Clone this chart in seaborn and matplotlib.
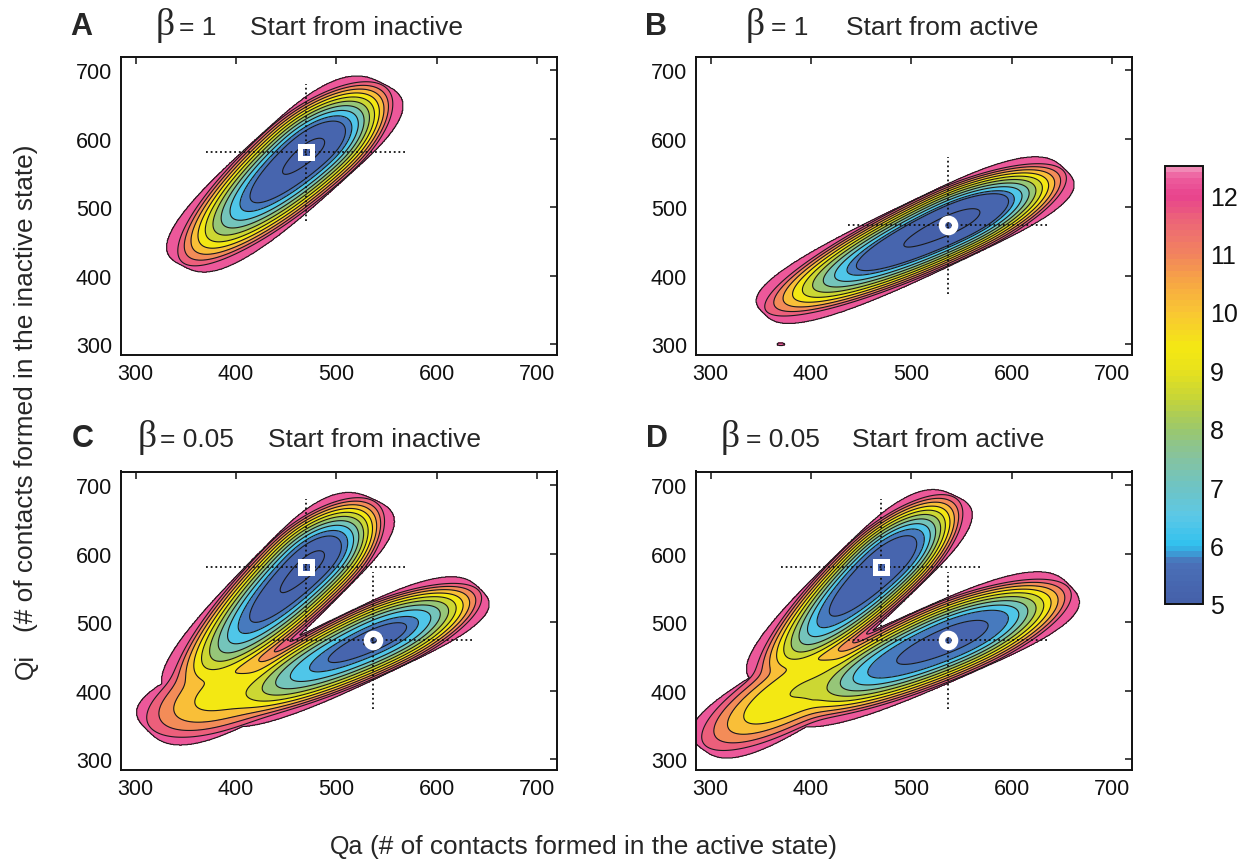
import numpy as np
import matplotlib
matplotlib.use("Agg")
import matplotlib.pyplot as plt
import seaborn as sns
from matplotlib.colors import LinearSegmentedColormap, ListedColormap, Normalize
from matplotlib.cm import ScalarMappable

sns.set_theme(style="white")
plt.rcParams["font.family"] = ["Liberation Sans", "DejaVu Sans"]

# ---- panel annotations -------------------------------------------------
panel_letters = ["A", "B", "C", "D"]
panel_beta = ["1", "1", "0.05", "0.05"]
panel_start = ["Start from inactive", "Start from active",
               "Start from inactive", "Start from active"]

# ---- free-energy basins (one entry per basin) ---------------------------
basin_panel = ["A", "B", "B", "C", "C", "C", "D", "D", "D"]
basin_qa = [470, 537, 370, 470, 537, 392, 470, 537, 388]
basin_qi = [578, 474, 300, 580, 474, 398, 580, 474, 402]
basin_angle = [53, 35, 0, 56, 35, 35, 55, 33, 42]
basin_reach_up = [128, 142, 4, 120, 130, 90, 128, 145, 100]
basin_reach_down = [205, 225, 4, 230, 195, 98, 210, 200, 130]
basin_width = [53, 50, 2, 51, 48, 50, 47, 53, 46]
basin_floor = [4.88, 4.93, 12.2, 4.85, 4.97, 9.3, 5.2, 5.2, 9.0]
basin_core = [0.45, 0.16, 1.0, 0.5, 0.9, 1.0, 0.25, 0.45, 0.6]

# ---- reference states (inactive, active) --------------------------------
state_qa = [470, 537]
state_qi = [580, 474]
state_marker = ["s", "o"]
panel_states = {"A": [0], "B": [1], "C": [0, 1], "D": [0, 1]}

# ---- colour scale -------------------------------------------------------
fe_min, fe_max = 5.0, 12.5
fe_cap = 12.3
fe_levels = np.array([5.0, 5.5, 6.0, 6.75, 7.5, 8.25, 9.0, 9.75,
                      10.5, 11.25, 12.0, 12.5])
cbar_ticks = [5, 6, 7, 8, 9, 10, 11, 12]
cmap_stops = [5.0, 5.7, 6.0, 6.5, 7.0, 7.5, 8.0, 8.5, 9.0, 9.4,
              10.0, 10.5, 11.0, 11.5, 12.0, 12.3, 12.5]
cmap_colors = ["#4560a9", "#4a70b8", "#30c1ef", "#5cc8e6", "#6fc4c3",
               "#85c3a0", "#9bc76c", "#c4d43a", "#e8e21c", "#f4e813",
               "#f9c634", "#f7a843", "#f2835e", "#ed6a74", "#e8438d",
               "#ec5b9c", "#f291bb"]

cmap = LinearSegmentedColormap.from_list(
    "fe", [((s - fe_min) / (fe_max - fe_min), c) for s, c in zip(cmap_stops, cmap_colors)])
norm = Normalize(fe_min, fe_max)

grid = np.linspace(285, 720, 700)
QA, QI = np.meshgrid(grid, grid)


def basin_terms(i):
    """Energy of one basin and the region it covers."""
    th = np.radians(basin_angle[i])
    dx, dy = QA - basin_qa[i], QI - basin_qi[i]
    u = dx * np.cos(th) + dy * np.sin(th)
    v = -dx * np.sin(th) + dy * np.cos(th)
    up, down = basin_reach_up[i], basin_reach_down[i]
    reach = 0.5 * (up + down) + 0.5 * (up - down) * np.tanh(u / 40.0)
    su, sv = np.abs(u / reach), np.abs(v / basin_width[i])
    r_e = np.sqrt(su ** 2 + sv ** 2)
    r_s = (su ** 3 + sv ** 3) ** (1.0 / 3.0)
    core = basin_core[i]
    shape = core * r_e ** 2 + (1 - core) * (np.clip(r_e - 0.45, 0, None) / 0.55) ** 1.2
    energy = basin_floor[i] + (fe_cap - basin_floor[i]) * shape
    return energy, r_s <= 1.0


def landscape(letter, kT=0.7):
    idx = [i for i, p in enumerate(basin_panel) if p == letter]
    terms = [basin_terms(i) for i in idx]
    parts = np.array([t[0] for t in terms])
    inside = np.any([t[1] for t in terms], axis=0)
    low = parts.min(axis=0)
    F = low - kT * np.log(np.exp(-(parts - low) / kT).sum(axis=0))
    F = np.minimum(F, fe_cap)
    return np.where(inside, F, 30.0)


band_mids = [4.9] + list(0.5 * (fe_levels[:-1] + fe_levels[1:]))
band_colors = [cmap(norm(m)) for m in band_mids]
fill_levels = [-50.0] + list(fe_levels)

W, H = 1240, 862
fig = plt.figure(figsize=(W / 100, H / 100), dpi=100)

axes_px = {"A": (120.5, 57.5), "B": (695.5, 57.5), "C": (120.5, 472.5), "D": (695.5, 472.5)}
ax_w, ax_h = 436.5, 298.0

for k, letter in enumerate(panel_letters):
    x0, y0 = axes_px[letter]
    ax = fig.add_axes([x0 / W, 1 - (y0 + ax_h) / H, ax_w / W, ax_h / H])
    F = landscape(letter)
    ax.contourf(QA, QI, F, levels=fill_levels, colors=band_colors, zorder=1)
    ax.contour(QA, QI, F, levels=fe_levels, colors="#1a1a1a", linewidths=0.8, zorder=2)

    for s in panel_states[letter]:
        qa, qi = state_qa[s], state_qi[s]
        ax.plot([qa - 100, qa + 100], [qi, qi], color="#111111", lw=1.3,
                linestyle=(0, (1, 1.6)), zorder=3)
        ax.plot([qa, qa], [qi - 100, qi + 100], color="#111111", lw=1.3,
                linestyle=(0, (1, 1.6)), zorder=3)
    for s in panel_states[letter]:
        if state_marker[s] == "s":
            ax.plot(state_qa[s], state_qi[s], marker="s", ms=8.5, mfc="none",
                    mec="white", mew=3.6, zorder=4)
        else:
            ax.plot(state_qa[s], state_qi[s], marker="o", ms=9.5, mfc="none",
                    mec="white", mew=4.6, zorder=4)

    ax.set_xlim(285, 720)
    ax.set_ylim(285, 720)
    ax.set_xticks([300, 400, 500, 600, 700])
    ax.set_yticks([300, 400, 500, 600, 700])
    ax.tick_params(direction="in", top=True, right=True, length=5, width=1.2,
                   colors="#222222", labelcolor="#111111", labelsize=15.5, pad=6)
    for sp in ax.spines.values():
        sp.set_linewidth(1.4)
        sp.set_color("#111111")
    ax.set_facecolor("white")

# panel headings: letter centre, beta centre, "=" start, subtitle start, baseline
heading_px = {
    "A": (81, 165, 179, 250, 35),
    "B": (656, 755, 771, 846, 35),
    "C": (83, 147, 160, 268, 447),
    "D": (657, 730, 746, 852, 447),
}
for k, letter in enumerate(panel_letters):
    xl, xb, xe, xs, yb = heading_px[letter]
    fy = 1 - yb / H
    fig.text(xl / W, fy, letter, fontsize=22, fontweight="bold", ha="center", va="baseline")
    fig.text(xb / W, fy, "\u03b2", fontsize=27, ha="center", va="baseline",
             family=["Liberation Serif", "DejaVu Serif"])
    fig.text(xe / W, fy, "= " + panel_beta[k], fontsize=19, ha="left", va="baseline")
    fig.text(xs / W, fy, panel_start[k], fontsize=19, ha="left", va="baseline")

# axis labels
fig.text(347 / W, 1 - 847 / H, "Qa", fontsize=18, ha="center", va="center")
fig.text(603 / W, 1 - 847 / H, "(# of contacts formed in the active state)",
         fontsize=18.9, ha="center", va="center")
fig.text(26 / W, 1 - 667 / H, "Qi", fontsize=18, ha="center", va="center", rotation=90)
fig.text(26 / W, 1 - 388 / H, "(# of contacts formed in the inactive state)",
         fontsize=18.9, ha="center", va="center", rotation=90)

# colour bar
cax = fig.add_axes([1165 / W, 1 - 605 / H, 38 / W, 438 / H])
steps = np.arange(fe_min, fe_max, 0.1)
bar_cmap = ListedColormap([cmap(norm(v + 0.05)) for v in steps])
cb = fig.colorbar(ScalarMappable(norm=norm, cmap=bar_cmap), cax=cax, ticks=cbar_ticks)
cb.outline.set_linewidth(1.4)
cb.outline.set_edgecolor("#111111")
cax.tick_params(direction="in", left=True, right=True, length=5, width=1.2,
                colors="#333333", labelcolor="#111111", labelsize=18, pad=5)

fig.savefig("out.png", dpi=100, facecolor="white")
